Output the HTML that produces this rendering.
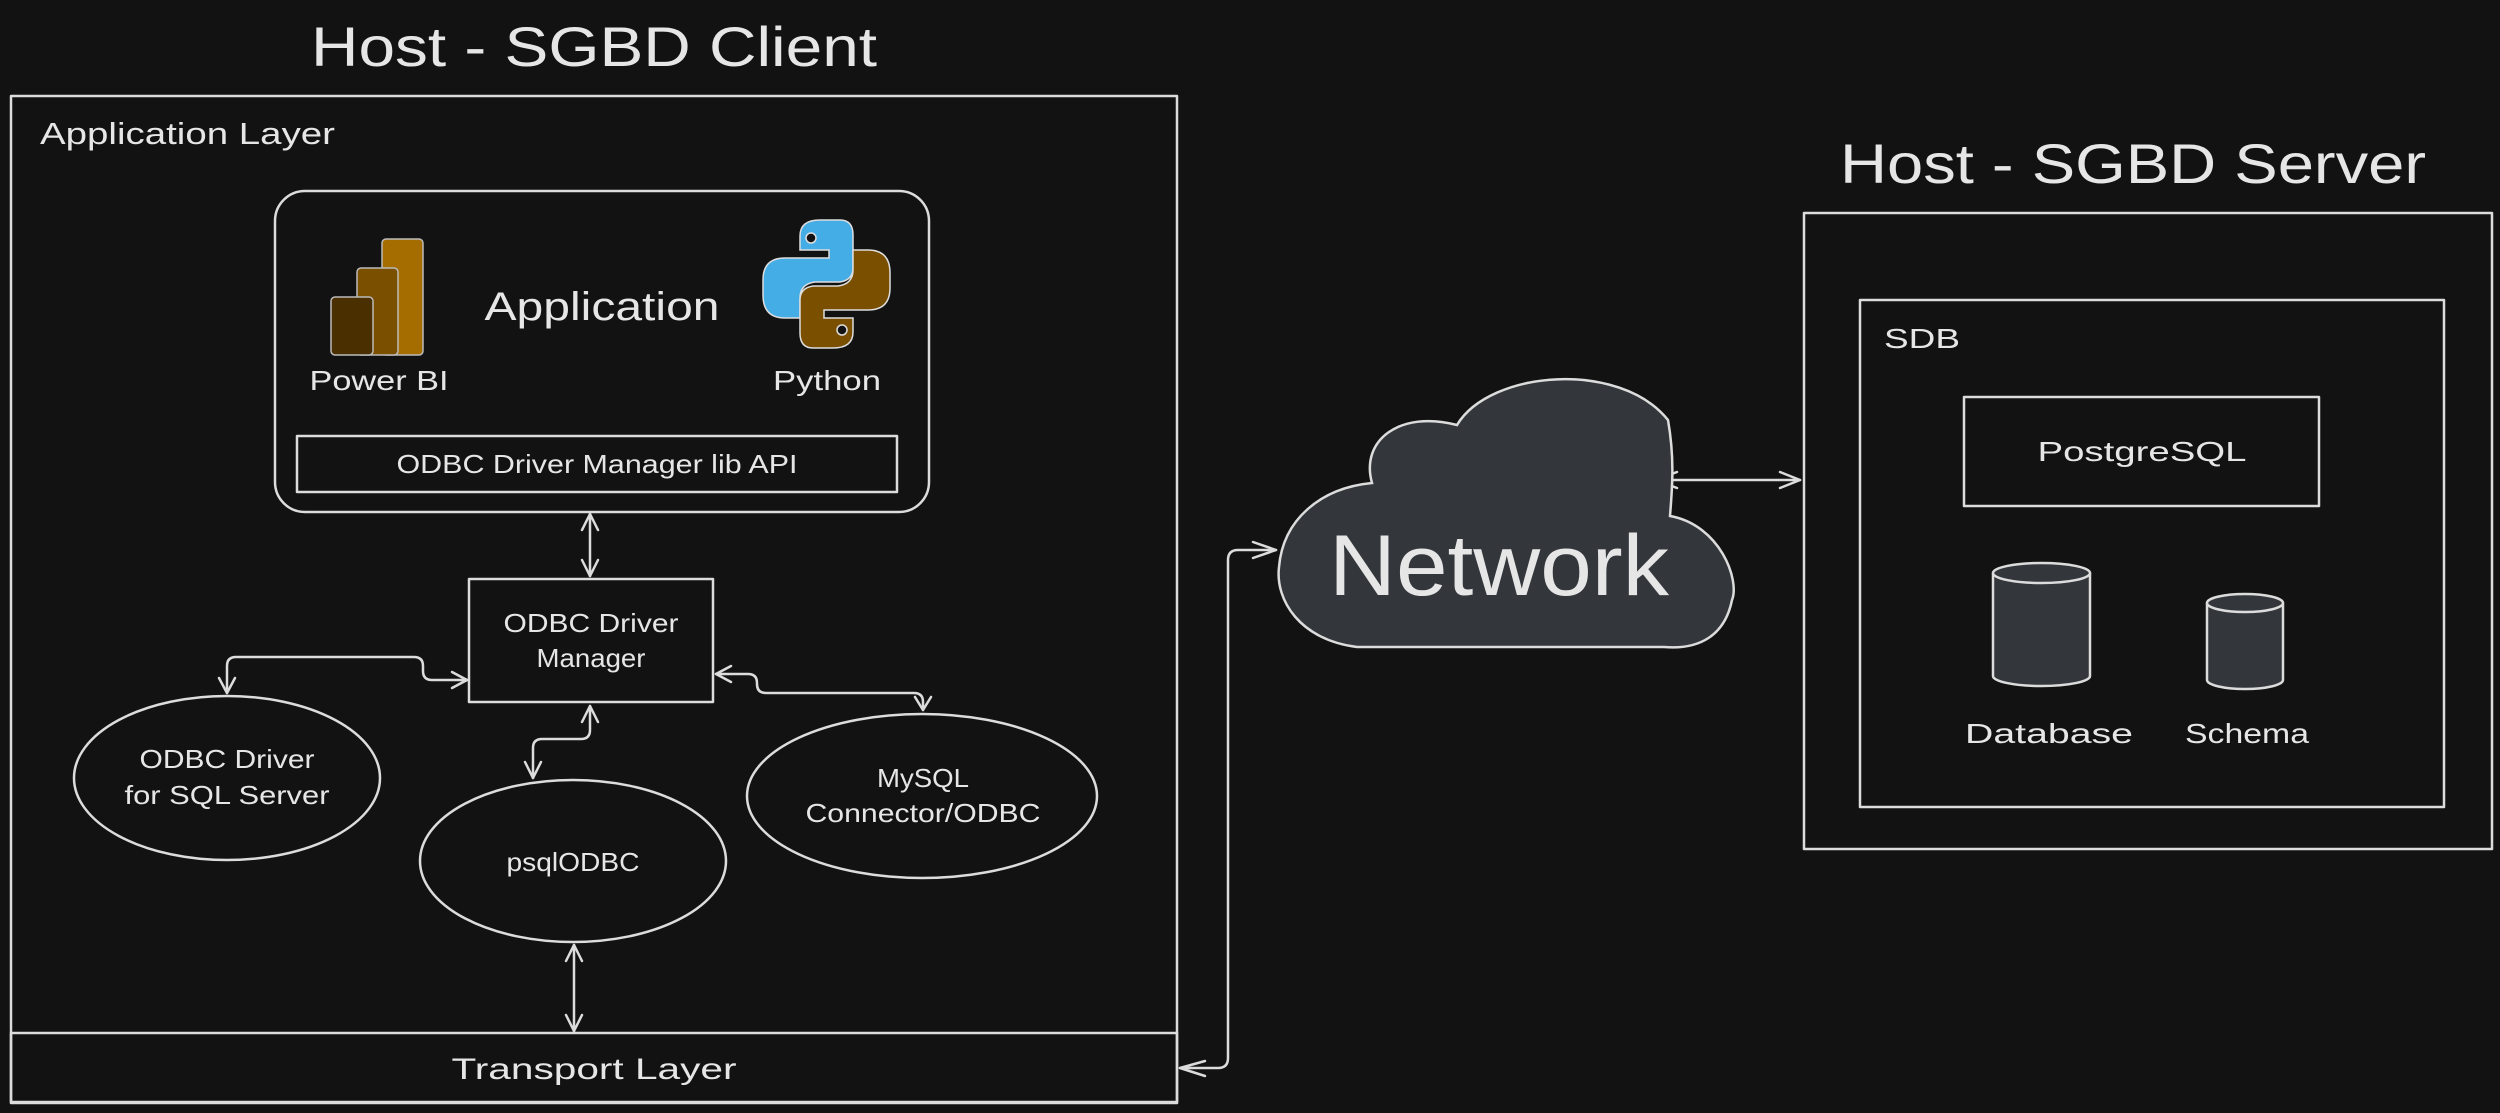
<!DOCTYPE html>
<html><head><meta charset="utf-8"><style>
html,body{margin:0;padding:0;background:#121212;}
svg{display:block;}
text{font-family:"Liberation Sans",sans-serif;fill:#e6e6e6;}
</style></head><body>
<svg width="2500" height="1113" viewBox="0 0 2500 1113" xmlns="http://www.w3.org/2000/svg">
<rect width="2500" height="1113" fill="#121212"/>
<g fill="none" stroke="#dcdcdc" stroke-width="2.5" stroke-linecap="round" stroke-linejoin="round">
<!-- client boxes -->
<rect x="11" y="96" width="1166" height="1006"/>
<rect x="11" y="1033" width="1166" height="70"/>
<rect x="275" y="191" width="654" height="321" rx="30"/>
<rect x="297" y="436" width="600" height="56"/>
<rect x="469" y="579" width="244" height="123"/>
<ellipse cx="227" cy="778" rx="153" ry="82"/>
<ellipse cx="573" cy="861" rx="153" ry="81"/>
<ellipse cx="922" cy="796" rx="175" ry="82"/>
<!-- connectors -->
<path d="M590 514 L590 576"/>
<path d="M582 530 L590 514 L598 530 M582 560 L590 576 L598 560"/>
<path d="M227 693 L227 666 Q227 657 236 657 L414 657 Q423 657 423 666 L423 671 Q423 680 432 680 L467 680"/>
<path d="M219 678 L227 693 L235 678 M452 672 L467 680 L452 688"/>
<path d="M716 674 L748 674 Q757 674 757 683 L757 684 Q757 693 766 693 L914 693 Q923 693 923 702 L923 710"/>
<path d="M731 666 L716 674 L731 682 M915 697 L923 710 L931 697"/>
<path d="M590 706 L590 730 Q590 739 581 739 L542 739 Q533 739 533 748 L533 778"/>
<path d="M582 722 L590 706 L598 722 M525 762 L533 778 L541 762"/>
<path d="M574 945 L574 1031"/>
<path d="M566 961 L574 945 L582 961 M566 1015 L574 1031 L582 1015"/>
<path d="M1180 1068 L1218 1068 Q1228 1068 1228 1058 L1228 560 Q1228 550 1238 550 L1276 550"/>
<path d="M1205 1061 L1180 1068 L1205 1076 M1253 542 L1276 550 L1253 558"/>
<path d="M1656 480 L1800 480"/>
<path d="M1677 472 L1656 480 L1677 488 M1780 472 L1800 480 L1780 488"/>
<!-- server boxes -->
<rect x="1804" y="213" width="688" height="636"/>
<rect x="1860" y="300" width="584" height="507"/>
<rect x="1964" y="397" width="355" height="109"/>
</g>
<!-- cloud -->
<path d="M1357,647 C1300,640 1275,600 1279,567 C1283,520 1320,488 1372,483 C1360,440 1400,410 1457,425 C1490,370 1620,360 1668,420 C1675,460 1672,490 1670,516 C1720,525 1740,580 1732,600 C1725,635 1700,650 1664,647 Z" fill="#33373b" stroke="#dcdcdc" stroke-width="2.5"/>
<!-- cylinders -->
<g fill="#33373b" stroke="#dcdcdc" stroke-width="2.5">
<path d="M1993 573 L1993 676 A48.5 10 0 0 0 2090 676 L2090 573"/>
<ellipse cx="2041.5" cy="573" rx="48.5" ry="10"/>
<path d="M2207 603 L2207 680 A38 9 0 0 0 2283 680 L2283 603"/>
<ellipse cx="2245" cy="603" rx="38" ry="9"/>
</g>
<!-- Power BI icon -->
<g stroke="#bbbbbb" stroke-width="1.5">
<rect x="382" y="239" width="41" height="116" rx="4" fill="#a56d00"/>
<rect x="357" y="268" width="41" height="87" rx="4" fill="#7a4f00"/>
<rect x="331" y="297" width="42" height="58" rx="4" fill="#4a3000"/>
</g>
<!-- Python icon -->
<g transform="translate(740,200)" stroke="#dddddd" stroke-width="1.5">
<path d="M60,36 Q60,20 80,20 L100,20 Q113,20 113,35 L113,68 Q113,80 100,82 L75,82 Q60,84 60,98 L60,118 L45,118 Q23,118 23,95 L23,80 Q23,58 45,58 L89,58 L89,50 L60,50 Z" fill="#45ade6"/>
<path d="M60,36 Q60,20 80,20 L100,20 Q113,20 113,35 L113,68 Q113,80 100,82 L75,82 Q60,84 60,98 L60,118 L45,118 Q23,118 23,95 L23,80 Q23,58 45,58 L89,58 L89,50 L60,50 Z" fill="#7a4f00" transform="rotate(180 86.5 84)"/>
<circle cx="71" cy="38" r="5" fill="#121212"/>
<circle cx="102" cy="130" r="5" fill="#121212"/>
</g>
<!-- text -->
<text x="594" y="66" font-size="56" text-anchor="middle" textLength="566" lengthAdjust="spacingAndGlyphs">Host - SGBD Client</text>
<text x="40" y="144" font-size="31" textLength="295" lengthAdjust="spacingAndGlyphs">Application Layer</text>
<text x="602" y="320" font-size="40" text-anchor="middle" textLength="235" lengthAdjust="spacingAndGlyphs">Application</text>
<text x="379" y="390" font-size="28" text-anchor="middle" textLength="139" lengthAdjust="spacingAndGlyphs">Power BI</text>
<text x="827" y="390" font-size="28" text-anchor="middle" textLength="108" lengthAdjust="spacingAndGlyphs">Python</text>
<text x="597" y="473" font-size="26" text-anchor="middle" textLength="401" lengthAdjust="spacingAndGlyphs">ODBC Driver Manager lib API</text>
<text x="591" y="632" font-size="26" text-anchor="middle" textLength="175" lengthAdjust="spacingAndGlyphs">ODBC Driver</text>
<text x="591" y="667" font-size="26" text-anchor="middle" textLength="109" lengthAdjust="spacingAndGlyphs">Manager</text>
<text x="227" y="768" font-size="26" text-anchor="middle" textLength="175" lengthAdjust="spacingAndGlyphs">ODBC Driver</text>
<text x="227" y="804" font-size="26" text-anchor="middle" textLength="205" lengthAdjust="spacingAndGlyphs">for SQL Server</text>
<text x="573" y="871" font-size="26" text-anchor="middle" textLength="133" lengthAdjust="spacingAndGlyphs">psqlODBC</text>
<text x="923" y="787" font-size="26" text-anchor="middle" textLength="92" lengthAdjust="spacingAndGlyphs">MySQL</text>
<text x="923" y="822" font-size="26" text-anchor="middle" textLength="235" lengthAdjust="spacingAndGlyphs">Connector/ODBC</text>
<text x="594" y="1079" font-size="30" text-anchor="middle" textLength="285" lengthAdjust="spacingAndGlyphs">Transport Layer</text>
<text x="1499" y="595" font-size="86" text-anchor="middle" textLength="340" lengthAdjust="spacingAndGlyphs">Network</text>
<text x="2133" y="183" font-size="56" text-anchor="middle" textLength="586" lengthAdjust="spacingAndGlyphs">Host - SGBD Server</text>
<text x="1884" y="348" font-size="28" textLength="76" lengthAdjust="spacingAndGlyphs">SDB</text>
<text x="2142" y="461" font-size="28" text-anchor="middle" textLength="209" lengthAdjust="spacingAndGlyphs">PostgreSQL</text>
<text x="2049" y="743" font-size="28" text-anchor="middle" textLength="168" lengthAdjust="spacingAndGlyphs">Database</text>
<text x="2247" y="743" font-size="28" text-anchor="middle" textLength="124" lengthAdjust="spacingAndGlyphs">Schema</text>
</svg>
</body></html>
